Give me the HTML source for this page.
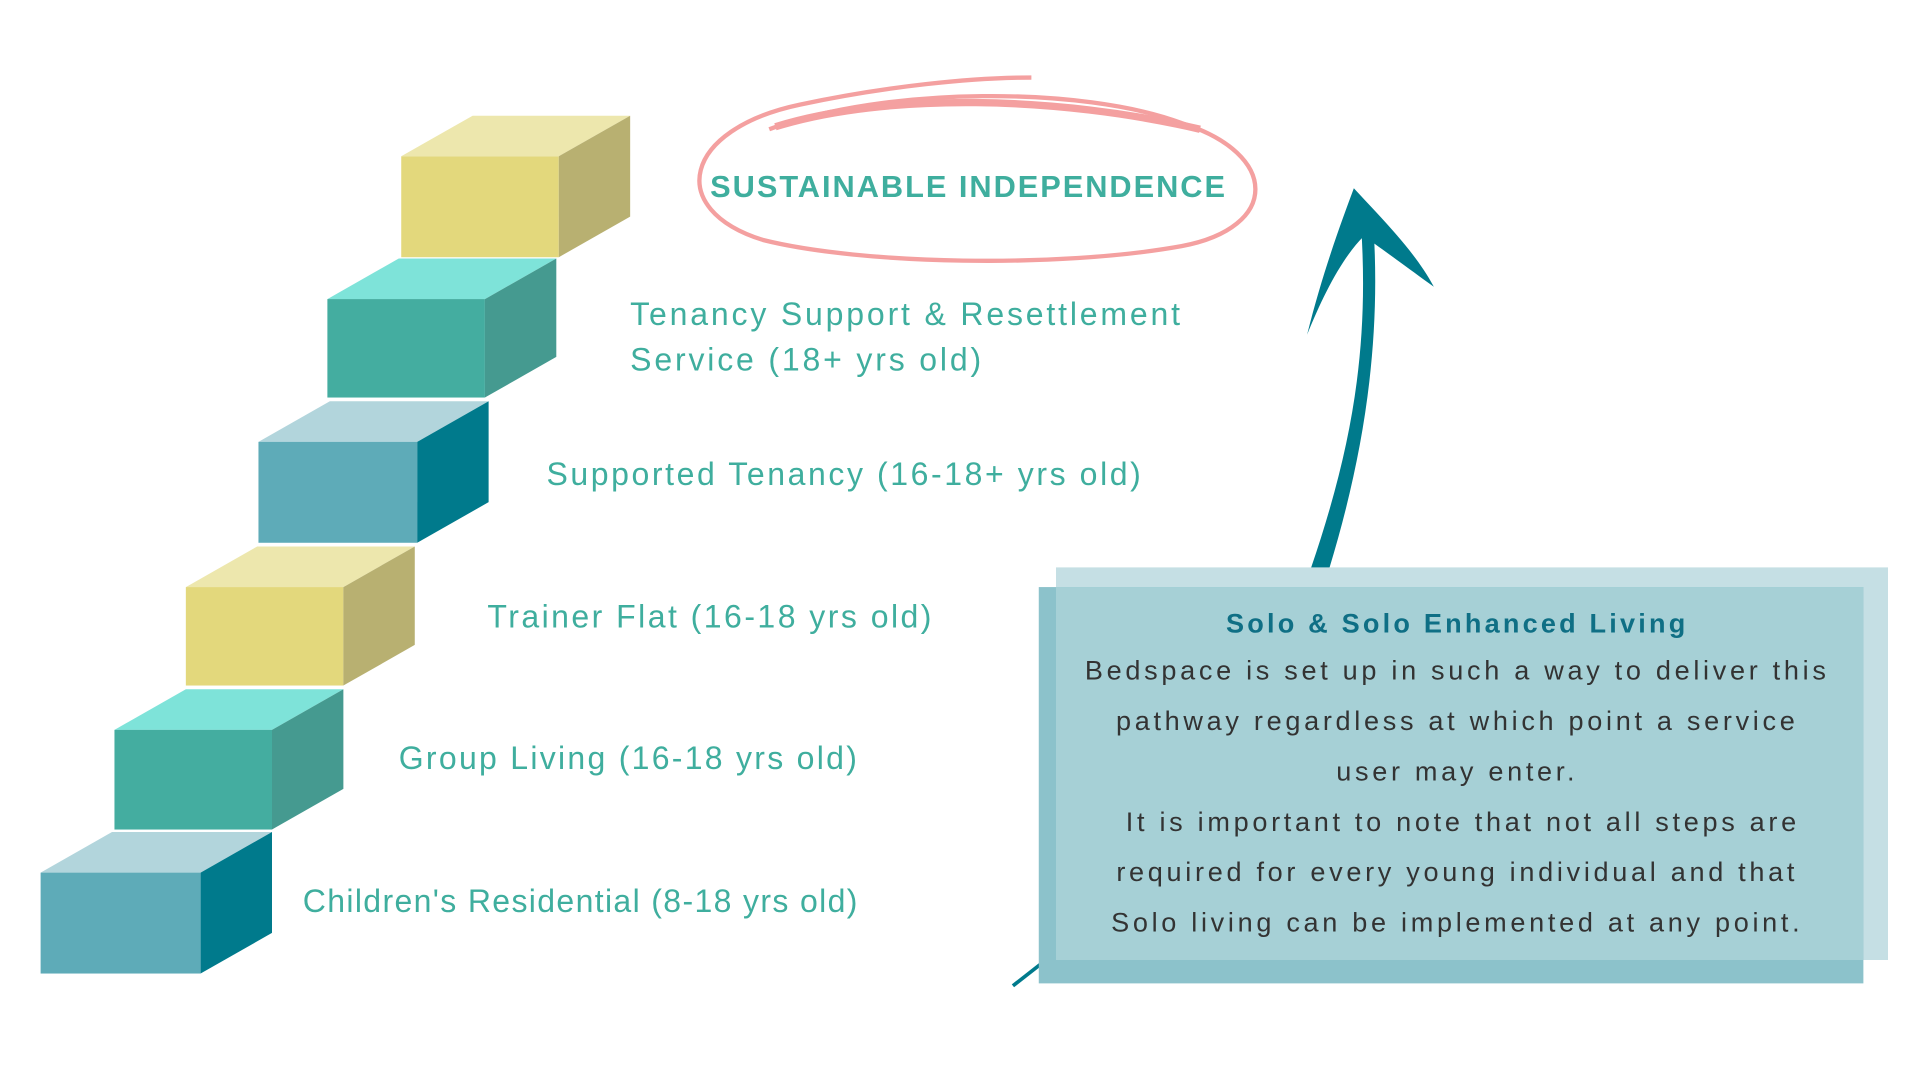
<!DOCTYPE html>
<html><head><meta charset="utf-8"><style>
html,body{margin:0;padding:0;background:#fff;width:1920px;height:1080px;overflow:hidden}
#w{position:absolute;left:0;top:0;width:1560px;height:877.5px;transform:scale(1.230769);transform-origin:0 0;font-family:"Liberation Sans",sans-serif}
.l{position:absolute;color:#3fae9e;font-size:26px;letter-spacing:2.3px;line-height:37px;white-space:nowrap}
</style></head><body><div id="w">
<svg width="1560" height="878" style="position:absolute;left:0;top:0">
<g>
<polygon points="33,709 163,709 221,676 91,676" fill="#b2d5dc"/><rect x="33" y="709" width="130" height="82" fill="#5eabb8"/><polygon points="163,709 221,676 221,758 163,791" fill="#007a8c"/>
<polygon points="93,593 221,593 279,560 151,560" fill="#7ee3d9"/><rect x="93" y="593" width="128" height="81" fill="#44ada0"/><polygon points="221,593 279,560 279,641 221,674" fill="#459a90"/>
<polygon points="151,477 279,477 337,444 209,444" fill="#ede7ad"/><rect x="151" y="477" width="128" height="80" fill="#e3d87c"/><polygon points="279,477 337,444 337,524 279,557" fill="#b8b071"/>
<polygon points="210,359 339,359 397,326 268,326" fill="#b2d5dc"/><rect x="210" y="359" width="129" height="82" fill="#5eabb8"/><polygon points="339,359 397,326 397,408 339,441" fill="#007a8c"/>
<polygon points="266,243 394,243 452,210 324,210" fill="#7ee3d9"/><rect x="266" y="243" width="128" height="80" fill="#44ada0"/><polygon points="394,243 452,210 452,290 394,323" fill="#459a90"/>
<polygon points="326,127 454,127 512,94 384,94" fill="#ede7ad"/><rect x="326" y="127" width="128" height="82" fill="#e3d87c"/><polygon points="454,127 512,94 512,176 454,209" fill="#b8b071"/>
</g>
<path d="M625,105 C720,70 880,70 960,100 C1040,125 1040,185 960,200 C860,218 700,215 620,195 C540,170 555,105 650,85 C720,70 790,63 838,63" fill="none" stroke="#f4a0a0" stroke-width="3.5"/>
<path d="M630,103 C720,75 860,78 975,105" fill="none" stroke="#f4a0a0" stroke-width="6"/>
<path d="M1065,462 C1100,360 1112,280 1106,185 L1116,185 C1122,280 1108,370 1080,462 Z" fill="#007a8c"/>
<path d="M1062,272 C1075,220 1090,180 1100,153 C1125,180 1150,205 1165,233 C1140,215 1120,200 1108,192 C1090,210 1075,240 1062,272 Z" fill="#007a8c"/>
<line x1="823" y1="801" x2="846" y2="783" stroke="#007a8c" stroke-width="3"/>
<rect x="858" y="461" width="676" height="319" fill="#c5dfe4"/>
<rect x="844" y="477" width="670" height="322" fill="#8cc2cb"/>
<rect x="858" y="477" width="656" height="303" fill="#a6d0d6"/>
</svg>
<div class="l" style="left:577px;top:134px;font-weight:bold;font-size:25px;letter-spacing:1.6px">SUSTAINABLE INDEPENDENCE</div>
<div class="l" style="left:512px;top:237px">Tenancy Support &amp; Resettlement<br>Service (18+ yrs old)</div>
<div class="l" style="left:444px;top:367px;letter-spacing:2.1px">Supported Tenancy (16-18+ yrs old)</div>
<div class="l" style="left:396px;top:483px;letter-spacing:2px">Trainer Flat (16-18 yrs old)</div>
<div class="l" style="left:324px;top:598px;letter-spacing:1.85px">Group Living (16-18 yrs old)</div>
<div class="l" style="left:246px;top:714px;letter-spacing:1.1px">Children's Residential (8-18 yrs old)</div>
<div style="position:absolute;left:849px;top:490px;width:670px;text-align:center;color:#333;font-size:22px;letter-spacing:3px;line-height:41px;white-space:nowrap">
<div style="color:#0f6f85;font-weight:bold;font-size:22px;line-height:34px;letter-spacing:2.6px">Solo &amp; Solo Enhanced Living</div>
Bedspace is set up in such a way to deliver this<br>pathway regardless at which point a service<br>user may enter.<br>&nbsp;It is important to note that not all steps are<br>required for every young individual and that<br>Solo living can be implemented at any point.
</div>
</div></body></html>
